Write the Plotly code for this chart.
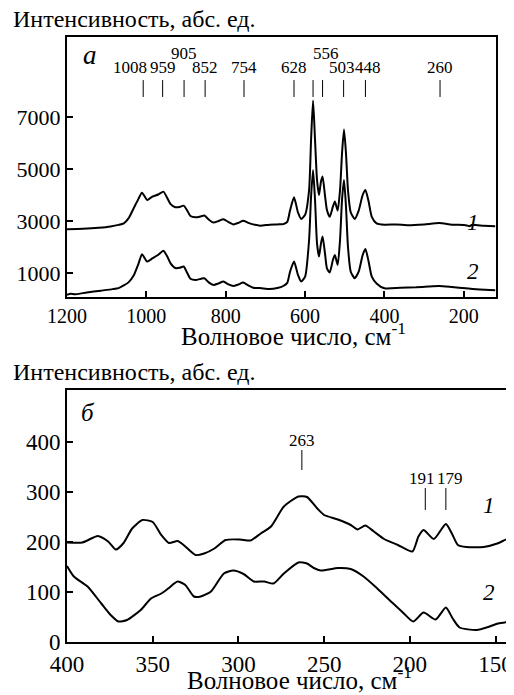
import plotly.graph_objects as go

# ---------------- DATA ----------------
# Panel a: wavenumber (cm-1) and intensity (abs. units)
a_wn_1 = [1200, 1160, 1120, 1090, 1070, 1057, 1045, 1032, 1020, 1011, 998, 985, 970, 957, 948, 939, 927, 916,
          906, 897, 889, 876, 862, 854, 843, 831, 818, 806, 793, 781, 768, 756, 743, 731, 713, 690, 670, 655,
          645, 638, 628, 618, 610, 600, 590, 585, 580, 575, 570, 565, 560, 556, 550, 545, 538, 530, 525, 518,
          512, 507, 502, 497, 492, 485, 475, 465, 455, 448, 440, 432, 420, 400, 370, 340, 300, 262, 230, 195,
          186, 180, 150, 121]
a_int_1 = [2680, 2700, 2740, 2790, 2850, 2910, 3100, 3490, 3850, 4090, 3810, 3940, 4020, 4130, 3900, 3650, 3530,
           3540, 3590, 3400, 3190, 3140, 3180, 3210, 3060, 2940, 3000, 3065, 2960, 2870, 2930, 3010, 2930, 2870,
           2820, 2860, 2870, 2880, 2970, 3400, 3910, 3330, 3080, 3240, 4190, 6120, 7630, 6120, 4580, 4000, 4520,
           4710, 3990, 3420, 3160, 3550, 3750, 3400, 4190, 5600, 6520, 5600, 4190, 3330, 3080, 3400, 4000, 4190,
           3750, 3160, 2910, 2860, 2870, 2840, 2870, 2920, 2860, 2840, 2800, 2850, 2820, 2800]

a_wn_2 = [1200, 1190, 1180, 1150, 1115, 1085, 1070, 1057, 1045, 1032, 1020, 1011, 998, 985, 970, 957, 948, 939,
          927, 916, 906, 897, 889, 876, 862, 854, 843, 831, 818, 806, 793, 781, 768, 756, 743, 731, 713, 690,
          670, 655, 645, 638, 628, 618, 610, 600, 590, 585, 580, 575, 570, 565, 560, 556, 550, 545, 538, 530,
          525, 518, 512, 507, 502, 497, 492, 485, 475, 465, 455, 448, 440, 432, 420, 400, 360, 320, 290, 262,
          230, 195, 160, 121]
a_int_2 = [160, 200, 180, 250, 320, 380, 420, 520, 640, 900, 1350, 1720, 1440, 1560, 1700, 1860, 1650, 1370,
           1190, 1200, 1250, 1000, 780, 730, 780, 800, 640, 540, 600, 670, 560, 500, 560, 630, 520, 430, 420,
           380, 420, 500, 620, 1050, 1440, 925, 670, 860, 2270, 3940, 4960, 3810, 2140, 1630, 2140, 2400, 1760,
           1180, 1020, 1500, 1690, 1310, 2270, 3810, 4580, 3550, 2010, 1050, 800, 1050, 1690, 1920, 1440, 860,
           600, 410, 430, 450, 480, 500, 460, 410, 370, 340]

a_x_ticks = [1200, 1000, 800, 600, 400, 200]
a_y_ticks = [1000, 3000, 5000, 7000]
a_peak_lines = [1008, 959, 905, 852, 754, 628, 580, 556, 503, 448, 260]
a_peak_labels_low = [1008, 959, 852, 754, 628, 503, 448, 260]
a_peak_labels_high = [905, 556]

# Panel b
b_wn_1 = [400, 391, 382, 376, 371.5, 367, 362, 356, 350, 345, 340.5, 335.5, 332, 325, 320, 314, 307.5, 299,
          293, 287, 281, 273.5, 265, 260, 254, 250, 242, 234.5, 230.5, 226, 221, 215, 207, 198.5, 195, 192,
          186, 179, 175.5, 172, 167, 157, 149, 142.5, 141]
b_int_1 = [199, 199, 212, 201, 185, 198, 227, 244, 240, 214, 198, 202, 194, 174, 177, 187, 204, 205, 203, 217,
           231, 271, 291, 290, 267, 254, 245, 234, 225, 233, 221, 206, 194, 181, 211, 224, 206, 236, 217, 194,
           190, 190, 197, 207, 207]

b_wn_2 = [400, 396, 388, 380, 374.5, 370, 365, 357, 351, 345, 341, 335.5, 331, 326, 322, 316, 308.5, 303, 297,
          291, 285, 279.5, 273.5, 265, 260, 256, 252, 242, 234.5, 227, 219, 211, 203.5, 198, 192, 185, 179,
          175, 171, 161, 153.5, 148.5, 141]
b_int_2 = [152, 131, 111, 77, 54, 41, 44, 64, 87, 97, 107, 121, 114, 91, 91, 101, 137, 143, 136, 121, 121, 117,
           137, 159, 157, 148, 143, 148, 146, 131, 107, 81, 57, 41, 59, 45, 69, 47, 29, 24, 31, 37, 41]

b_x_ticks = [400, 350, 300, 250, 200, 150]
b_y_ticks = [0, 100, 200, 300, 400]
b_peak_lines = [263, 191, 179]

# ---------------- FIGURE ----------------
OFF = 8                     # default page margin of the html body
W, H = 514 - OFF, 695 - OFF
SERIF = "Liberation Serif"

def px(xp):
    return (xp - OFF) / W

def py(yp):
    return 1 - (yp - OFF) / H

fig = go.Figure()
line_style = dict(color="black", width=2, shape="spline", smoothing=0.6)
fig.add_trace(go.Scatter(x=a_wn_1, y=a_int_1, mode="lines", line=line_style, xaxis="x", yaxis="y", showlegend=False))
fig.add_trace(go.Scatter(x=a_wn_2, y=a_int_2, mode="lines", line=line_style, xaxis="x", yaxis="y", showlegend=False))
fig.add_trace(go.Scatter(x=b_wn_1, y=b_int_1, mode="lines", line=line_style, xaxis="x2", yaxis="y2", showlegend=False))
fig.add_trace(go.Scatter(x=b_wn_2, y=b_int_2, mode="lines", line=line_style, xaxis="x2", yaxis="y2", showlegend=False))

def axis_style(size):
    return dict(showline=True, mirror=True, linecolor="black", linewidth=2, showgrid=False, zeroline=False,
                ticks="inside", ticklen=6, tickwidth=1.5, tickcolor="black", automargin=False,
                tickfont=dict(family=SERIF, size=size, color="black"))

fig.update_layout(
    template="none",
    width=W, height=H, margin=dict(l=0, r=0, t=0, b=0, pad=0),
    font=dict(family=SERIF, color="black"),
    paper_bgcolor="white", plot_bgcolor="white",
    xaxis=dict(domain=[px(67), px(496)], range=[1200, 119], tickvals=a_x_ticks, anchor="y", **axis_style(20)),
    yaxis=dict(domain=[py(297), py(37)], range=[77, 10077], tickvals=a_y_ticks, anchor="x", **axis_style(22)),
    xaxis2=dict(domain=[px(67), px(511)], range=[400, 141], tickvals=b_x_ticks, anchor="y2", **axis_style(23)),
    yaxis2=dict(domain=[py(642), py(390)], range=[0, 504], tickvals=b_y_ticks, anchor="x2", **axis_style(23)),
)

small = dict(family=SERIF, size=17, color="black")
label_shift = {1008: -13, 556: 3, 503: -2, 448: 3, 191: -3, 179: 4}

shapes = []
annots = []
# panel a peak markers
for p in a_peak_lines:
    shapes.append(dict(type="line", xref="x", yref="y", x0=p, x1=p, y0=7770, y1=8420,
                       line=dict(color="black", width=1)))
for p in a_peak_labels_low:
    annots.append(dict(xref="x", yref="y", x=p, y=8920, text=str(p), showarrow=False,
                       xshift=label_shift.get(p, 0), font=small))
for p in a_peak_labels_high:
    annots.append(dict(xref="x", yref="y", x=p, y=9460, text=str(p), showarrow=False,
                       xshift=label_shift.get(p, 0), font=small))
# panel b peak markers
for p in b_peak_lines:
    if p == 263:
        y0, y1, yl = 344, 384, 404
    else:
        y0, y1, yl = 264, 308, 328
    shapes.append(dict(type="line", xref="x2", yref="y2", x0=p, x1=p, y0=y0, y1=y1,
                       line=dict(color="black", width=1)))
    annots.append(dict(xref="x2", yref="y2", x=p, y=yl, text=str(p), showarrow=False,
                       xshift=label_shift.get(p, 0), font=small))

# texts
big = dict(family=SERIF, size=24, color="black")
annots += [
    dict(xref="paper", yref="paper", x=px(11), y=py(19), text="Интенсивность, абс. ед.", showarrow=False,
         xanchor="left", yanchor="middle", font=big),
    dict(xref="paper", yref="paper", x=px(11), y=py(372), text="Интенсивность, абс. ед.", showarrow=False,
         xanchor="left", yanchor="middle", font=big),
    dict(xref="paper", yref="paper", x=px(293), y=py(334), text="Волновое число, см<sup>-1</sup>", showarrow=False,
         xanchor="center", yanchor="middle", font=dict(family=SERIF, size=25, color="black")),
    dict(xref="paper", yref="paper", x=px(299), y=py(678), text="Волновое число, см<sup>-1</sup>", showarrow=False,
         xanchor="center", yanchor="middle", font=dict(family=SERIF, size=25, color="black")),
    dict(xref="paper", yref="paper", x=px(90), y=py(55), text="<i>а</i>", showarrow=False,
         xanchor="center", yanchor="middle", font=dict(family=SERIF, size=27, color="black")),
    dict(xref="paper", yref="paper", x=px(88), y=py(412), text="<i>б</i>", showarrow=False,
         xanchor="center", yanchor="middle", font=dict(family=SERIF, size=25, color="black")),
    dict(xref="paper", yref="paper", x=px(481), y=py(208), text="<i>1</i>", showarrow=False,
         font=dict(family=SERIF, size=23, color="black")),
    dict(xref="paper", yref="paper", x=px(481), y=py(271), text="<i>2</i>", showarrow=False,
         font=dict(family=SERIF, size=23, color="black")),
    dict(xref="paper", yref="paper", x=px(497), y=py(520), text="<i>1</i>", showarrow=False,
         font=dict(family=SERIF, size=23, color="black")),
    dict(xref="paper", yref="paper", x=px(497), y=py(607), text="<i>2</i>", showarrow=False,
         font=dict(family=SERIF, size=23, color="black")),
]

fig.update_layout(shapes=shapes, annotations=annots)
fig.write_html("out.html")
